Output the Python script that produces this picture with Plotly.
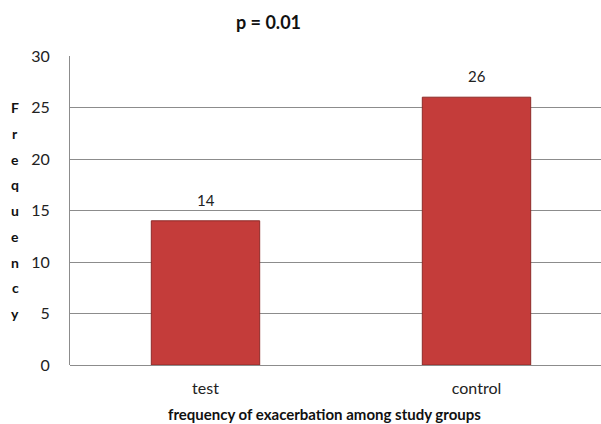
import plotly.graph_objects as go

categories = ["test", "control"]
values = [14, 26]
y_ticks = [0, 5, 10, 15, 20, 25, 30]
title_text = "p = 0.01"
x_title = "frequency of exacerbation among study groups"
y_title = "Frequency"

FONT = "Lato, 'Open Sans', sans-serif"
W, H = 601, 424
L, R, T, B = 70, 0, 56, 59
plot_w = W - L - R
plot_h = H - T - B

fig = go.Figure()
fig.add_trace(go.Bar(
    x=categories, y=values,
    width=0.4,
    marker=dict(color="#C43C3A", line=dict(color="#8E2A28", width=1)),
    hoverinfo="x+y",
))

annotations = []
# value labels above bars
for c, v in zip(categories, values):
    annotations.append(dict(
        text=str(v), x=c, y=v, xref="x", yref="y", showarrow=False,
        xanchor="center", yanchor="middle", yshift=21,
        font=dict(family=FONT, size=15, color="#222222"),
    ))
# vertical stacked y-axis title letters
for i, ch in enumerate(y_title):
    annotations.append(dict(
        text="<b>%s</b>" % ch, x=(15 - L) / plot_w, xref="paper",
        y=25 - 2.5 * i, yref="y", showarrow=False,
        xanchor="center", yanchor="middle",
        font=dict(family=FONT, size=14, color="#111111"),
    ))
annotations.append(dict(
    text="<b>%s</b>" % x_title, x=(324 - L) / plot_w, xref="paper",
    y=-(414 - (H - B)) / plot_h, yref="paper", showarrow=False,
    xanchor="center", yanchor="middle",
    font=dict(family=FONT, size=15, color="#111111"),
))
annotations.append(dict(
    text="<b>%s</b>" % title_text, x=(268 - L) / plot_w, xref="paper",
    y=1 + (T - 22) / plot_h, yref="paper", showarrow=False,
    xanchor="center", yanchor="middle",
    font=dict(family=FONT, size=18, color="#111111"),
))

fig.update_layout(
    width=W, height=H,
    margin=dict(l=L, r=R, t=T, b=B, pad=0),
    paper_bgcolor="white", plot_bgcolor="white",
    showlegend=False,
    font=dict(family=FONT, size=15, color="#222222"),
    annotations=annotations,
    xaxis=dict(
        range=[-0.5, -0.5 + plot_w / 271.0],
        showgrid=False, showline=False, ticks="",
        ticklabelstandoff=12,
        tickfont=dict(family=FONT, size=16, color="#222222"),
        fixedrange=True,
    ),
    yaxis=dict(
        range=[0, 30], tickvals=y_ticks,
        showgrid=True, gridcolor="#8C8C8C", gridwidth=1,
        zeroline=True, zerolinecolor="#8C8C8C", zerolinewidth=1,
        showline=True, linecolor="#8C8C8C", linewidth=1,
        ticks="", ticklabelstandoff=16,
        tickfont=dict(family=FONT, size=16, color="#222222"),
        fixedrange=True,
    ),
)

fig.write_html(
    "out.html",
    config={"displayModeBar": False},
    post_script="document.body.style.margin='0';document.body.style.overflow='hidden';",
)
